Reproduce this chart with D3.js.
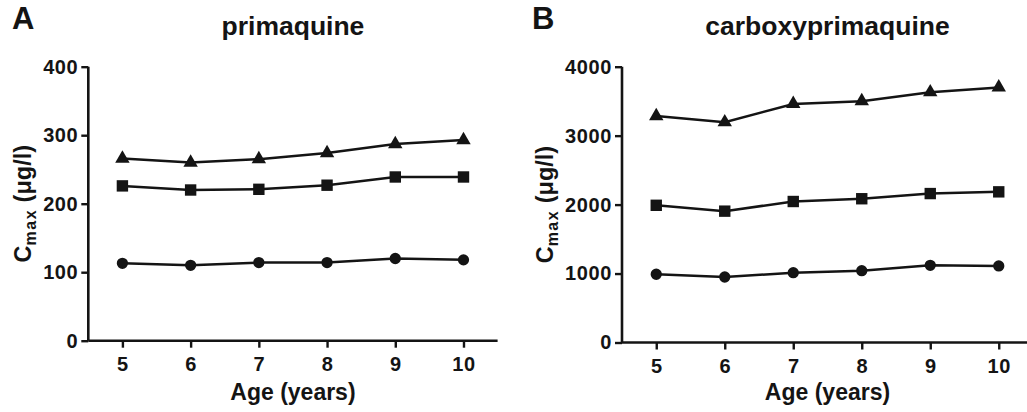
<!DOCTYPE html>
<html>
<head>
<meta charset="utf-8">
<script src="https://cdn.jsdelivr.net/npm/d3@7"></script>
<style>
  body { margin: 0; background: #fff; }
  svg { display: block; font-family: "Liberation Sans", Arial, sans-serif; font-weight: bold; }
</style>
</head>
<body>
<div id="chart"></div>
<script>
// ages on the x axis (same for both panels)
var ages = [5, 6, 7, 8, 9, 10];

// panel A - primaquine Cmax (ug/l)
var pqCircle = [113, 110, 114, 114, 120, 118];
var pqSquare = [226, 220, 221, 227, 239, 239];
var pqTriangle = [266, 260, 265, 274, 287, 293];
var pqTicks = [0, 100, 200, 300, 400];

// panel B - carboxyprimaquine Cmax (ug/l)
var cpqCircle = [990, 950, 1012, 1041, 1120, 1110];
var cpqSquare = [1990, 1905, 2045, 2085, 2160, 2185];
var cpqTriangle = [3285, 3195, 3460, 3500, 3630, 3700];
var cpqTicks = [0, 1000, 2000, 3000, 4000];

var ageTicks = [5, 6, 7, 8, 9, 10];

var ink = "#141414";

var svg = d3.select("#chart").append("svg")
    .attr("width", 1027)
    .attr("height", 412);

function makePanel(opt) {
    var x = d3.scaleLinear()
        .domain([4.5, 10.5])
        .range([opt.left, opt.right]);
    var y = d3.scaleLinear()
        .domain([0, opt.max])
        .range([opt.bottom, 66.7]);

    var g = svg.append("g");

    // panel letter
    g.append("text")
        .attr("x", opt.letterX)
        .attr("y", 29)
        .style("font-size", "31px")
        .attr("fill", ink)
        .text(opt.letter);

    // title centred over the x axis
    g.append("text")
        .attr("x", (opt.left + opt.right) / 2)
        .attr("y", 35)
        .attr("text-anchor", "middle")
        .style("font-size", "26.5px")
        .attr("fill", ink)
        .text(opt.title);

    // axes
    var yAxis = d3.axisLeft(y).tickValues(opt.yTicks).tickFormat(d3.format("d"))
        .tickSize(7).tickPadding(3);
    var gy = g.append("g")
        .attr("transform", "translate(" + opt.left + ",0)")
        .call(yAxis);
    var xAxis = d3.axisBottom(x).tickValues(ageTicks).tickFormat(d3.format("d"))
        .tickSize(7).tickPadding(9);
    var gx = g.append("g")
        .attr("transform", "translate(0," + opt.bottom + ")")
        .call(xAxis);

    [gx, gy].forEach(function(a) {
        a.attr("font-size", null).attr("font-family", null);
        a.select(".domain").attr("stroke", ink).attr("stroke-width", 2.6);
        a.selectAll(".tick line").attr("stroke", ink).attr("stroke-width", 2.4);
        a.selectAll(".tick text")
            .attr("fill", ink)
            .style("font-size", "20px")
            .style("letter-spacing", "0.6px");
    });
    gx.select(".domain").attr("d", "M" + opt.left + ",0H" + opt.right);
    gy.select(".domain").attr("d", "M0," + opt.bottom + "V66.7");

    // x axis title
    g.append("text")
        .attr("x", (opt.left + opt.right) / 2)
        .attr("y", 400)
        .attr("text-anchor", "middle")
        .style("font-size", "23px")
        .attr("fill", ink)
        .text("Age (years)");

    // y axis title with subscript
    var yl = g.append("text")
        .attr("transform", "translate(" + opt.yLabelX + "," + ((opt.bottom + 66.7) / 2) + ") rotate(-90)")
        .attr("text-anchor", "middle")
        .style("font-size", "23.5px")
        .attr("fill", ink);
    yl.append("tspan").text("C");
    yl.append("tspan").attr("dy", 5).style("font-size", "16px")
        .style("letter-spacing", "1.5px").text("max");
    yl.append("tspan").attr("dy", -5).text(" (μg/l)");

    var line = d3.line()
        .x(function(d) { return x(d.age); })
        .y(function(d) { return y(d.v); });

    var series = [
        {vals: opt.circle, shape: d3.symbolCircle, size: 100},
        {vals: opt.square, shape: d3.symbolSquare, size: 130},
        {vals: opt.triangle, shape: d3.symbolTriangle, size: 90}
    ];

    series.forEach(function(s) {
        var pts = ages.map(function(a, i) { return {age: a, v: s.vals[i]}; });
        g.append("path")
            .datum(pts)
            .attr("fill", "none")
            .attr("stroke", ink)
            .attr("stroke-width", 2.5)
            .attr("d", line);
        g.selectAll(null)
            .data(pts)
            .enter()
            .append("path")
            .attr("transform", function(d) { return "translate(" + x(d.age) + "," + y(d.v) + ")"; })
            .attr("d", d3.symbol().type(s.shape).size(s.size))
            .attr("fill", ink);
    });
}

makePanel({
    letter: "A", letterX: 12, title: "primaquine",
    left: 88.3, right: 497.6, bottom: 340.7, max: 400,
    yTicks: pqTicks, yLabelX: 31,
    circle: pqCircle, square: pqSquare, triangle: pqTriangle
});

makePanel({
    letter: "B", letterX: 532, title: "carboxyprimaquine",
    left: 622, right: 1033, bottom: 342.5, max: 4000,
    yTicks: cpqTicks, yLabelX: 553,
    circle: cpqCircle, square: cpqSquare, triangle: cpqTriangle
});
</script>
</body>
</html>
